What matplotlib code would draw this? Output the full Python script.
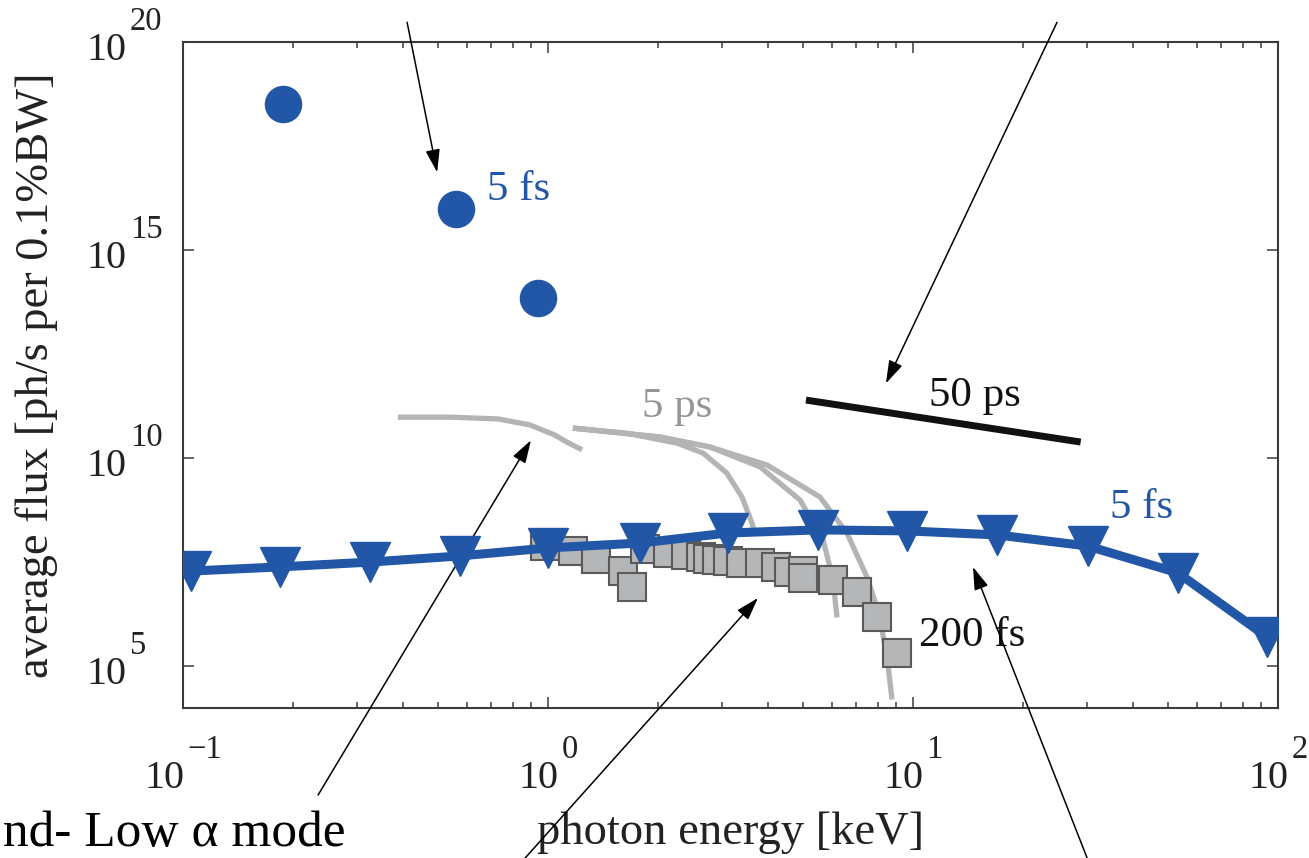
import matplotlib

matplotlib.use("Agg")
import numpy as np
import matplotlib.pyplot as plt
from matplotlib.ticker import LogLocator, NullLocator, NullFormatter
from matplotlib.transforms import IdentityTransform

plt.rcParams["font.family"] = ["Liberation Serif", "DejaVu Serif"]

# 5 fs, blue circles (upper left)
circ_x = [0.188, 0.560, 0.94]
circ_y = [3.2e18, 1.0e16, 6.9e13]

# 5 fs, blue triangle curve
fs_x = [0.105, 0.184, 0.325, 0.574, 1.0, 1.79, 3.11, 5.5, 9.6, 17.0, 30.1, 53.2, 93.3]
fs_y = [1.95e7, 2.45e7, 3.2e7, 4.5e7, 7.0e7, 9.2e7, 1.6e8, 1.9e8, 1.8e8, 1.44e8,
        7.8e7, 1.76e7, 5.1e5]

# 200 fs, grey squares
sq_x = [0.98, 1.17, 1.35, 1.60, 1.70, 1.84, 2.13, 2.39, 2.62, 2.74, 2.90, 3.11,
        3.38, 3.81, 4.22, 4.57, 5.0, 5.0, 6.04, 7.03, 7.97, 9.04]
sq_y = [7.8e7, 5.9e7, 3.8e7, 1.96e7, 8.1e6, 6.6e7, 5.3e7, 4.75e7, 4.3e7, 3.8e7,
        3.6e7, 3.4e7, 3.05e7, 3.05e7, 2.45e7, 1.86e7, 1.96e7, 1.33e7, 1.19e7,
        6.2e6, 1.55e6, 2.1e5]

# 5 ps, grey curves
ga_x = [0.388, 0.542, 0.730, 0.893, 1.045, 1.13, 1.24]
ga_y = [9.7e10, 9.7e10, 8.8e10, 6.3e10, 3.6e10, 2.4e10, 1.6e10]
g1_x = [1.17, 1.64, 2.26, 2.66, 3.09, 3.40, 3.62, 3.69]
g1_y = [5.3e10, 4.0e10, 2.3e10, 1.33e10, 4.4e9, 1.17e9, 2.8e8, 1.44e8]
g2_x = [1.17, 2.03, 2.78, 3.81, 4.90, 5.67, 6.04, 6.19]
g2_y = [5.3e10, 3.24e10, 1.86e10, 6.2e9, 1.0e9, 1.1e8, 1.2e7, 1.5e6]
g3_x = [1.17, 2.03, 2.78, 3.98, 5.56, 6.59, 7.48, 8.12, 8.55, 8.76]
g3_y = [5.3e10, 3.24e10, 1.86e10, 6.9e9, 1.17e9, 1.6e8, 1.4e7, 1.55e6, 9.8e4, 1.6e4]

# 50 ps, black line
bl_x = [5.09, 28.8]
bl_y = [2.5e11, 2.45e10]

x_ticks = [0.1, 1, 10, 100]
y_ticks = [1e5, 1e10, 1e15, 1e20]

BLUE = "#2256a6"
GREY = "#b3b4b6"

fig = plt.figure(figsize=(13.09, 8.58), dpi=100)
ax = fig.add_axes([183 / 1309, 150 / 858, 1095 / 1309, 666 / 858])
ax.set_xscale("log")
ax.set_yscale("log")
ax.set_xlim(0.1, 100)
ax.set_ylim(1e4, 1e20)

for gx, gy in [(ga_x, ga_y), (g1_x, g1_y), (g2_x, g2_y), (g3_x, g3_y)]:
    ax.plot(gx, gy, color=GREY, lw=3.8, solid_capstyle="butt", zorder=1)
ax.plot(sq_x, sq_y, "s", ms=20, mfc="#b5b6b8", mec="#5a5a5a", mew=1.5, zorder=2)
ax.plot(bl_x, bl_y, color="#111111", lw=5, solid_capstyle="butt", zorder=3)
ax.plot(fs_x, fs_y, "-v", color=BLUE, lw=6.5, ms=29, zorder=4)
ax.plot(circ_x, circ_y, "o", color=BLUE, ms=27, mew=0, zorder=4)

ax.text(0.681, 2.8e16, "5 fs", color=BLUE, fontsize=31, va="center")
ax.text(2.26, 1.7e11, "5 ps", color="#959595", fontsize=31, ha="center", va="center")
ax.text(14.8, 3.1e11, "50 ps", color="#111111", fontsize=31, ha="center", va="center")
ax.text(42.4, 6.3e8, "5 fs", color=BLUE, fontsize=31, ha="center", va="center")
ax.text(14.5, 5.4e5, "200 fs", color="#111111", fontsize=31, ha="center", va="center")

ax.set_xticks(x_ticks)
ax.set_yticks(y_ticks)
ax.yaxis.set_minor_locator(NullLocator())
ax.xaxis.set_minor_locator(LogLocator(base=10, subs=range(2, 10)))
ax.xaxis.set_minor_formatter(NullFormatter())
ax.tick_params(which="both", direction="in", top=True, right=True,
               color="#3a3a3a", width=1.1, labelleft=False, labelbottom=False)
ax.tick_params(which="major", length=8)
ax.tick_params(which="minor", length=4.5)
for s in ax.spines.values():
    s.set_color("#3a3a3a")
    s.set_linewidth(1.5)

ax.set_xlabel("photon energy [keV]", fontsize=33.5, color="#222222")
ax.set_ylabel("average flux [ph/s per 0.1%BW]", fontsize=33.5, color="#222222")
ax.xaxis.set_label_coords(0.5, -0.155)
ax.yaxis.set_label_coords(-0.114, 0.5)

# arrows from the surrounding notes
arrow = dict(arrowstyle="-|>,head_length=0.7,head_width=0.22", color="black",
             lw=1.1, mutation_scale=20, shrinkA=0, shrinkB=0)
heads = [(0.497, 7.4e16), (8.43, 6.3e11), (0.898, 2.7e10), (3.76, 4.4e6), (14.6, 2.45e7)]
tails = [(0.311, 0.974), (0.8075, 0.974), (0.243, 0.0734), (0.400, -0.002), (0.831, -0.002)]
for head, tail in zip(heads, tails):
    ax.annotate("", xy=head, xycoords="data", xytext=tail, textcoords="figure fraction",
                arrowprops=arrow, annotation_clip=False)

fig.text(3 / 1309, 12 / 858, "nd- Low α mode", fontsize=37, ha="left", va="baseline")

# tick labels as 10 + raised exponent (the exponent sits high, as in the source)
fig.canvas.draw()
rend = fig.canvas.get_renderer()
ident = IdentityTransform()
ax_left, ax_bottom = ax.transAxes.transform((0, 0))


def exp_text(v):
    return str(int(round(np.log10(v)))).replace("-", "\u2212")


for v in y_ticks:
    yd = ax.transData.transform((1, v))[1]
    x0 = ax_left - 96
    t = fig.text(x0, yd - 18, "10", fontsize=29, ha="left", va="baseline",
                 transform=ident, color="#222222")
    w = t.get_window_extent(rend).width
    fig.text(x0 + w + 3, yd + 12, exp_text(v), fontsize=23.5, ha="left",
             va="baseline", transform=ident, color="#222222")

for v in x_ticks:
    xd = ax.transData.transform((v, 1))[0]
    t1 = fig.text(0, ax_bottom - 80, "10", fontsize=29, ha="left", va="baseline",
                  transform=ident, color="#222222")
    t2 = fig.text(0, ax_bottom - 50, exp_text(v), fontsize=23.5, ha="left",
                  va="baseline", transform=ident, color="#222222")
    w1 = t1.get_window_extent(rend).width
    w2 = t2.get_window_extent(rend).width
    left = xd - (w1 + 3 + w2) / 2
    t1.set_x(left)
    t2.set_x(left + w1 + 3)

fig.savefig("out.png", dpi=100)
